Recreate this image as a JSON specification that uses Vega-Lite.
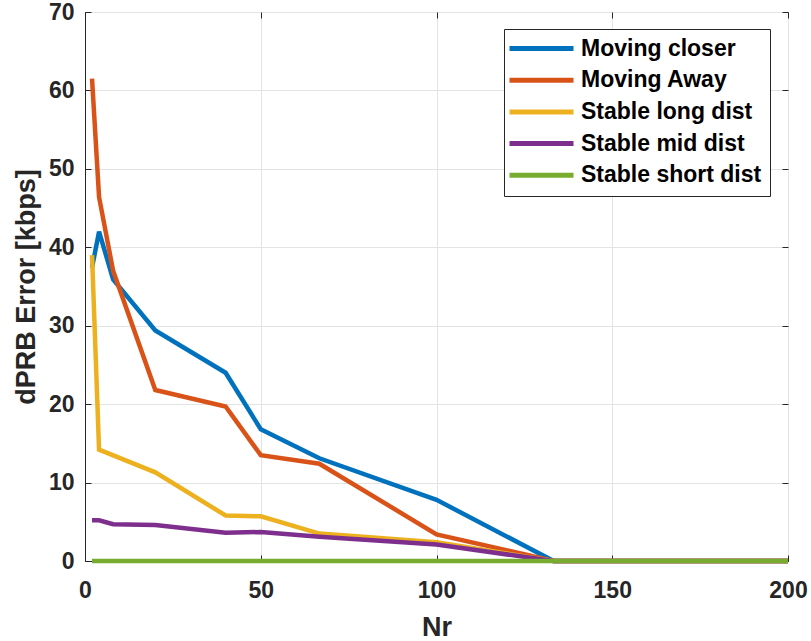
{
  "$schema": "https://vega.github.io/schema/vega-lite/v6.json",
  "width": 703,
  "height": 549,
  "autosize": {"type": "none"},
  "padding": {"left": 85, "top": 12, "right": 23, "bottom": 80},
  "background": "white",
  "config": {
    "font": "Liberation Sans",
    "view": {"stroke": "#262626", "strokeWidth": 1},
    "axis": {
      "labelFont": "Liberation Sans",
      "titleFont": "Liberation Sans",
      "labelFontWeight": "bold",
      "titleFontWeight": "bold",
      "labelColor": "#262626",
      "titleColor": "#262626",
      "domainColor": "#262626",
      "tickColor": "#262626",
      "gridColor": "#e3e3e3",
      "gridWidth": 1,
      "labelFlush": false
    }
  },
  "data": {
    "values": [
      {"Nr": 2, "err": 37.4, "series": "Moving closer"},
      {"Nr": 4, "err": 42.0, "series": "Moving closer"},
      {"Nr": 8, "err": 35.9, "series": "Moving closer"},
      {"Nr": 20, "err": 29.4, "series": "Moving closer"},
      {"Nr": 40, "err": 24.0, "series": "Moving closer"},
      {"Nr": 50, "err": 16.8, "series": "Moving closer"},
      {"Nr": 66.67, "err": 13.1, "series": "Moving closer"},
      {"Nr": 100, "err": 7.8, "series": "Moving closer"},
      {"Nr": 133.33, "err": 0, "series": "Moving closer"},
      {"Nr": 200, "err": 0, "series": "Moving closer"},
      {"Nr": 2, "err": 61.5, "series": "Moving Away"},
      {"Nr": 4, "err": 46.4, "series": "Moving Away"},
      {"Nr": 8, "err": 37.0, "series": "Moving Away"},
      {"Nr": 20, "err": 21.8, "series": "Moving Away"},
      {"Nr": 40, "err": 19.7, "series": "Moving Away"},
      {"Nr": 50, "err": 13.5, "series": "Moving Away"},
      {"Nr": 66.67, "err": 12.4, "series": "Moving Away"},
      {"Nr": 100, "err": 3.4, "series": "Moving Away"},
      {"Nr": 133.33, "err": 0, "series": "Moving Away"},
      {"Nr": 200, "err": 0, "series": "Moving Away"},
      {"Nr": 2, "err": 39.0, "series": "Stable long dist"},
      {"Nr": 4, "err": 14.2, "series": "Stable long dist"},
      {"Nr": 20, "err": 11.3, "series": "Stable long dist"},
      {"Nr": 40, "err": 5.8, "series": "Stable long dist"},
      {"Nr": 50, "err": 5.7, "series": "Stable long dist"},
      {"Nr": 66.67, "err": 3.5, "series": "Stable long dist"},
      {"Nr": 100, "err": 2.4, "series": "Stable long dist"},
      {"Nr": 133.33, "err": 0, "series": "Stable long dist"},
      {"Nr": 200, "err": 0, "series": "Stable long dist"},
      {"Nr": 2, "err": 5.2, "series": "Stable mid dist"},
      {"Nr": 4, "err": 5.2, "series": "Stable mid dist"},
      {"Nr": 8, "err": 4.7, "series": "Stable mid dist"},
      {"Nr": 20, "err": 4.6, "series": "Stable mid dist"},
      {"Nr": 40, "err": 3.6, "series": "Stable mid dist"},
      {"Nr": 50, "err": 3.7, "series": "Stable mid dist"},
      {"Nr": 66.67, "err": 3.1, "series": "Stable mid dist"},
      {"Nr": 100, "err": 2.1, "series": "Stable mid dist"},
      {"Nr": 133.33, "err": 0, "series": "Stable mid dist"},
      {"Nr": 200, "err": 0, "series": "Stable mid dist"},
      {"Nr": 2, "err": 0, "series": "Stable short dist"},
      {"Nr": 4, "err": 0, "series": "Stable short dist"},
      {"Nr": 8, "err": 0, "series": "Stable short dist"},
      {"Nr": 20, "err": 0, "series": "Stable short dist"},
      {"Nr": 40, "err": 0, "series": "Stable short dist"},
      {"Nr": 50, "err": 0, "series": "Stable short dist"},
      {"Nr": 66.67, "err": 0, "series": "Stable short dist"},
      {"Nr": 100, "err": 0, "series": "Stable short dist"},
      {"Nr": 133.33, "err": 0, "series": "Stable short dist"},
      {"Nr": 200, "err": 0, "series": "Stable short dist"}
    ]
  },
  "layer": [
    {
      "mark": {"type": "line", "strokeWidth": 4.5, "clip": false},
      "encoding": {
        "x": {
          "field": "Nr", "type": "quantitative",
          "scale": {"domain": [0, 200], "nice": false, "zero": true},
          "axis": {
            "values": [0, 50, 100, 150, 200],
            "grid": true,
            "tickSize": -6,
            "labelPadding": 24,
            "labelFontSize": 23,
            "title": "Nr",
            "titleFontSize": 27,
            "titlePadding": 12
          }
        },
        "y": {
          "field": "err", "type": "quantitative",
          "scale": {"domain": [0, 70], "nice": false, "zero": true},
          "axis": {
            "values": [0, 10, 20, 30, 40, 50, 60, 70],
            "grid": true,
            "tickSize": -6,
            "labelPadding": 17,
            "labelFontSize": 23,
            "title": "dPRB Error [kbps]",
            "titleFontSize": 27,
            "titlePadding": 8
          }
        },
        "color": {
          "field": "series", "type": "nominal",
          "scale": {
            "domain": ["Moving closer", "Moving Away", "Stable long dist", "Stable mid dist", "Stable short dist"],
            "range": ["#0072BD", "#D95319", "#EDB120", "#7E2F8E", "#77AC30"]
          },
          "legend": {
            "title": null,
            "orient": "none",
            "legendX": 419,
            "legendY": 17,
            "padding": 8,
            "strokeColor": "#262626",
            "fillColor": "white",
            "symbolType": "M-1.75,0H6.25",
            "symbolSize": 256,
            "symbolStrokeWidth": 5,
            "labelFont": "Liberation Sans",
            "labelFontWeight": "bold",
            "labelFontSize": 23,
            "labelColor": "black",
            "labelOffset": 46,
            "rowPadding": 7.7,
            "labelLimit": 400
          }
        }
      }
    },
    {
      "mark": {"type": "line", "opacity": 0},
      "encoding": {
        "x": {
          "field": "Nr", "type": "quantitative",
          "scale": {"domain": [0, 200], "nice": false, "zero": true},
          "axis": {"orient": "top", "values": [0, 50, 100, 150, 200], "labels": false, "title": null, "grid": false, "domain": false, "tickSize": -6}
        },
        "y": {
          "field": "err", "type": "quantitative",
          "scale": {"domain": [0, 70], "nice": false, "zero": true},
          "axis": {"orient": "right", "values": [0, 10, 20, 30, 40, 50, 60, 70], "labels": false, "title": null, "grid": false, "domain": false, "tickSize": -6}
        },
        "detail": {"field": "series"}
      }
    }
  ],
  "resolve": {"axis": {"x": "independent", "y": "independent"}}
}
